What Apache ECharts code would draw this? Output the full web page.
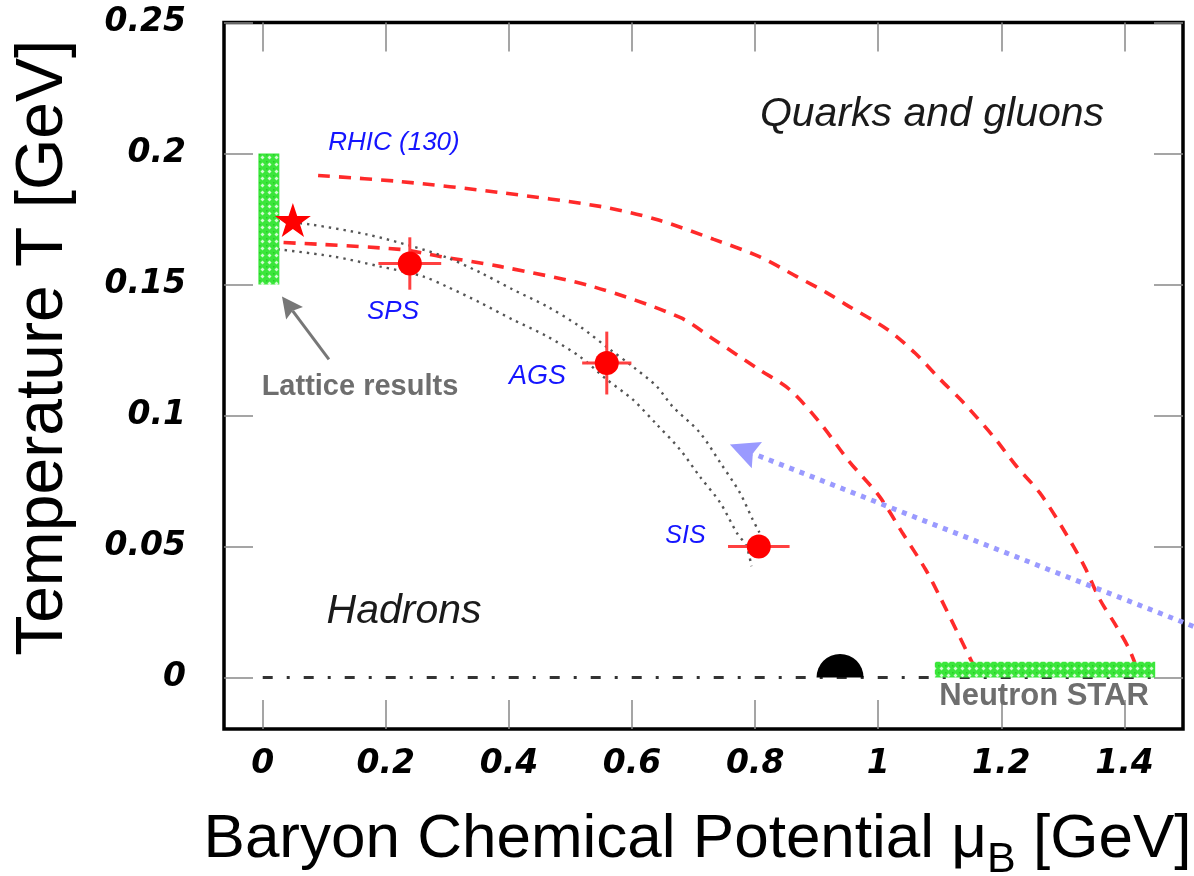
<!DOCTYPE html>
<html>
<head>
<meta charset="utf-8">
<script src="https://cdn.jsdelivr.net/npm/echarts@6/dist/echarts.min.js"></script>
<style>
  html, body { margin: 0; padding: 0; background: #fff; }
  #chart { width: 1194px; height: 876px; }
</style>
</head>
<body>
<div id="chart"></div>
<script>
// ---- axis ticks ----
const muTicks = [0, 0.2, 0.4, 0.6, 0.8, 1.0, 1.2, 1.4];
const tTicks = [0, 0.05, 0.1, 0.15, 0.2, 0.25];

// ---- phase boundary band: two red dashed curves [muB, T] ----
const boundaryUpper = [
  [0.090, 0.1916], [0.223, 0.1893], [0.385, 0.1851], [0.548, 0.1798], [0.640, 0.1748],
  [0.733, 0.1672], [0.806, 0.1607], [0.867, 0.1531], [0.916, 0.1469], [0.947, 0.1424],
  [1.015, 0.1328], [1.059, 0.1240], [1.101, 0.1137], [1.138, 0.1050], [1.187, 0.0920],
  [1.225, 0.0805], [1.262, 0.0706], [1.298, 0.0576], [1.335, 0.0424], [1.360, 0.0298],
  [1.387, 0.0195], [1.408, 0.0107], [1.424, 0.0011]
];
const boundaryLower = [
  [0.000, 0.1664], [0.223, 0.1634], [0.288, 0.1607], [0.385, 0.1569], [0.536, 0.1492],
  [0.678, 0.1374], [0.733, 0.1290], [0.806, 0.1176], [0.856, 0.1099], [0.905, 0.0973],
  [0.953, 0.0824], [1.002, 0.0691], [1.039, 0.0553], [1.077, 0.0412], [1.100, 0.0309],
  [1.132, 0.0156], [1.158, 0.0031]
];

// ---- chemical freeze-out curves: grey dotted ----
const freezeOuter = [
  [0.000, 0.1748], [0.077, 0.1729], [0.169, 0.1691], [0.244, 0.1645], [0.299, 0.1603],
  [0.353, 0.1546], [0.406, 0.1481], [0.462, 0.1416], [0.515, 0.1340], [0.564, 0.1252],
  [0.601, 0.1187], [0.640, 0.1111], [0.666, 0.1034], [0.710, 0.0935], [0.743, 0.0821],
  [0.775, 0.0706], [0.796, 0.0603], [0.807, 0.0553]
];
const freezeInner = [
  [0.000, 0.1641], [0.114, 0.1607], [0.190, 0.1569], [0.260, 0.1531], [0.299, 0.1492],
  [0.353, 0.1431], [0.406, 0.1366], [0.462, 0.1302], [0.515, 0.1225], [0.559, 0.1137],
  [0.601, 0.1061], [0.640, 0.0966], [0.678, 0.0870], [0.710, 0.0767], [0.743, 0.0668],
  [0.770, 0.0553], [0.786, 0.0500], [0.794, 0.0424]
];

// ---- freeze-out points from experiments ----
const expNames = ['SPS', 'AGS', 'SIS'];
const expMu = [0.239, 0.559, 0.806];
const expT = [0.158, 0.120, 0.050];
const expMuErr = [0.051, 0.040, 0.050];
const expTErr = [0.010, 0.012, 0.000];

// ---- other marks ----
const latticePoint = [[0.049, 0.1746]];
const latticeBand = [[-0.007, 0.027, 0.150, 0.200]];      // mu0, mu1, T0, T1
const neutronStarBand = [[1.092, 1.450, 0.000, 0.006]];   // mu0, mu1, T0, T1
const nucleonMass = [[0.938, 0]];
const zeroLine = [[0, 0], [1.45, 0]];
const latticeArrow = [[0.1076, 0.1214, 0.0313, 0.1454]];  // from (mu, T) to (mu, T)
const starArrow = [[1.512, 0.0195, 0.759, 0.0889]];

// green "lattice" texture for the bands
function makeBandPattern() {
  const c = document.createElement('canvas');
  c.width = 7; c.height = 7;
  const g = c.getContext('2d');
  g.fillStyle = '#3be63b';
  g.fillRect(0, 0, 7, 7);
  g.fillStyle = '#d2fbd2';
  g.beginPath();
  g.moveTo(3.5, 1.5); g.lineTo(5.5, 3.5); g.lineTo(3.5, 5.5); g.lineTo(1.5, 3.5);
  g.closePath(); g.fill();
  g.fillStyle = '#27cc27';
  g.fillRect(0, 0, 1.5, 1.5);
  return c;
}
const bandFill = { image: makeBandPattern(), repeat: 'repeat' };

function bandItem(params, api) {
  const p0 = api.coord([api.value(0), api.value(3)]);
  const p1 = api.coord([api.value(1), api.value(2)]);
  return {
    type: 'rect',
    shape: { x: p0[0], y: p0[1], width: p1[0] - p0[0], height: p1[1] - p0[1] },
    style: { fill: bandFill }
  };
}

function arrowItem(color, width, dash, headLen, headW) {
  return function (params, api) {
    const a = api.coord([api.value(0), api.value(1)]);
    const b = api.coord([api.value(2), api.value(3)]);
    const dx = b[0] - a[0], dy = b[1] - a[1];
    const L = Math.hypot(dx, dy);
    const ux = dx / L, uy = dy / L, nx = -uy, ny = ux;
    const base = [b[0] - ux * headLen, b[1] - uy * headLen];
    const notch = [b[0] - ux * headLen * 0.85, b[1] - uy * headLen * 0.85];
    return {
      type: 'group',
      children: [
        { type: 'line', shape: { x1: a[0], y1: a[1], x2: notch[0], y2: notch[1] },
          style: { stroke: color, lineWidth: width, lineDash: dash, lineCap: 'butt' } },
        { type: 'polygon',
          shape: { points: [b, [base[0] + nx * headW / 2, base[1] + ny * headW / 2], notch,
                            [base[0] - nx * headW / 2, base[1] - ny * headW / 2]] },
          style: { fill: color } }
      ]
    };
  };
}

const expData = expNames.map((n, i) => [expMu[i], expT[i], expMuErr[i], expTErr[i], n]);

const tickLabelStyle = {
  fontFamily: 'DejaVu Sans', fontWeight: 'bold', fontStyle: 'italic',
  fontSize: 33, color: '#000'
};
const tickStyle = { inside: true, length: 29, lineStyle: { color: '#888', width: 1.5 } };
const noLine = { show: false, onZero: false };

const chart = echarts.init(document.getElementById('chart'), null, { renderer: 'canvas' });

chart.setOption({
  animation: false,
  backgroundColor: '#fff',
  grid: {
    left: 224, top: 22.5, right: 11, bottom: 147,
    show: true, borderColor: '#000', borderWidth: 3.5, backgroundColor: 'transparent',
    containLabel: false, outerBoundsMode: 'none'
  },
  xAxis: [
    {
      type: 'value', min: -0.0629, max: 1.4952, position: 'bottom',
      axisLine: noLine,
      axisTick: Object.assign({ customValues: muTicks }, tickStyle),
      axisLabel: Object.assign({ customValues: muTicks, margin: 19 }, tickLabelStyle),
      splitLine: { show: false },
      name: 'Baryon Chemical Potential μ{sub|B} [GeV]',
      nameLocation: 'middle', nameGap: 68,
      nameTextStyle: {
        fontFamily: 'Liberation Sans', fontSize: 62, color: '#000', padding: [0, 12, 0, 0],
        rich: { sub: { fontFamily: 'Liberation Sans', fontSize: 43, color: '#000', padding: [42, 0, 0, 0] } }
      }
    },
    {
      type: 'value', min: -0.0629, max: 1.4952, position: 'top',
      axisLine: noLine,
      axisTick: Object.assign({ customValues: muTicks }, tickStyle),
      axisLabel: { show: false },
      splitLine: { show: false }
    }
  ],
  yAxis: [
    {
      type: 'value', min: -0.0197, max: 0.25, position: 'left',
      axisLine: noLine,
      axisTick: Object.assign({ customValues: tTicks }, tickStyle),
      axisLabel: Object.assign({ customValues: tTicks, margin: 38 }, tickLabelStyle),
      splitLine: { show: false },
      name: 'Temperature T [GeV]',
      nameLocation: 'middle', nameGap: 147,
      nameTextStyle: { fontFamily: 'Liberation Sans', fontSize: 66, color: '#000', padding: [0, 0, 0, 56] }
    },
    {
      type: 'value', min: -0.0197, max: 0.25, position: 'right',
      axisLine: noLine,
      axisTick: Object.assign({ customValues: tTicks }, tickStyle),
      axisLabel: { show: false },
      splitLine: { show: false }
    }
  ],
  series: [
    {
      name: 'T = 0', type: 'line', data: zeroLine, symbol: 'none', silent: true, z: 2,
      lineStyle: { color: '#333', width: 3, type: [10, 14, 3, 14] }
    },
    {
      name: 'Phase boundary (upper)', type: 'line', data: boundaryUpper, symbol: 'none',
      smooth: 0.3, silent: true, z: 3,
      lineStyle: { color: '#ff2a2a', width: 3.6, type: [12, 9] }
    },
    {
      name: 'Phase boundary (lower)', type: 'line', data: boundaryLower, symbol: 'none',
      smooth: 0.3, silent: true, z: 3,
      lineStyle: { color: '#ff2a2a', width: 3.6, type: [12, 9] }
    },
    {
      name: 'Freeze-out (outer)', type: 'line', data: freezeOuter, symbol: 'none',
      smooth: 0.3, silent: true, z: 3,
      lineStyle: { color: '#555', width: 2.4, type: [2.4, 5] }
    },
    {
      name: 'Freeze-out (inner)', type: 'line', data: freezeInner, symbol: 'none',
      smooth: 0.3, silent: true, z: 3,
      lineStyle: { color: '#555', width: 2.4, type: [2.4, 5] }
    },
    {
      name: 'Lattice band', type: 'custom', data: latticeBand, renderItem: bandItem, silent: true, z: 4
    },
    {
      name: 'Neutron star band', type: 'custom', data: neutronStarBand, renderItem: bandItem, silent: true, z: 4
    },
    {
      name: 'Error bars', type: 'custom', data: expData, silent: true, z: 5,
      renderItem: function (params, api) {
        const mu = api.value(0), t = api.value(1), dmu = api.value(2), dt = api.value(3);
        const l = api.coord([mu - dmu, t]), r = api.coord([mu + dmu, t]);
        const top = api.coord([mu, t + dt]), bot = api.coord([mu, t - dt]);
        const st = { stroke: '#ff4040', lineWidth: 3 };
        const kids = [{ type: 'line', shape: { x1: l[0], y1: l[1], x2: r[0], y2: r[1] }, style: st }];
        if (dt > 0) kids.push({ type: 'line', shape: { x1: top[0], y1: top[1], x2: bot[0], y2: bot[1] }, style: st });
        return { type: 'group', children: kids };
      }
    },
    {
      name: 'Freeze-out points', type: 'scatter', data: expData, symbol: 'circle', symbolSize: 24,
      silent: true, z: 6, itemStyle: { color: '#ff0000', opacity: 1 }
    },
    {
      name: 'Lattice critical point', type: 'scatter', data: latticePoint, silent: true, z: 6,
      symbol: 'path://M50,0 L61.8,35.3 L99,35.3 L69,57.1 L80.4,92.7 L50,70.9 L19.6,92.7 L31,57.1 L1,35.3 L38.2,35.3 Z',
      symbolSize: [36, 34], itemStyle: { color: '#ff0000', opacity: 1 }
    },
    {
      name: 'Nucleon mass', type: 'scatter', data: nucleonMass, silent: true, z: 6,
      symbol: 'path://M0,10 A10,10 0 0 1 20,10 Z', symbolSize: [47, 23.5], symbolOffset: [0, '-50%'],
      itemStyle: { color: '#000', opacity: 1 }
    },
    {
      name: 'Lattice arrow', type: 'custom', data: latticeArrow, silent: true, z: 6, clip: false,
      renderItem: arrowItem('#777', 3, null, 21, 21)
    },
    {
      name: 'Neutron star arrow', type: 'custom', data: starArrow, silent: true, z: 6, clip: false,
      renderItem: arrowItem('#9a9aff', 5, [5, 6], 29, 28)
    },
    {
      name: 'Annotations', type: 'scatter', symbolSize: 1, silent: true, z: 7,
      itemStyle: { color: 'rgba(255,255,255,0)', opacity: 1 },
      label: { show: true, position: 'inside', formatter: (p) => p.data.text },
      data: [
        { value: [1.0874, 0.2147], text: 'Quarks and gluons',
          label: { fontFamily: 'Liberation Sans', fontStyle: 'italic', fontSize: 41, color: '#1a1a1a' } },
        { value: [0.2296, 0.0250], text: 'Hadrons',
          label: { fontFamily: 'Liberation Sans', fontStyle: 'italic', fontSize: 41, color: '#1a1a1a' } },
        { value: [0.2133, 0.2042], text: 'RHIC (130)',
          label: { fontFamily: 'Liberation Sans', fontStyle: 'italic', fontSize: 26, color: '#1515ff' } },
        { value: [0.2117, 0.1395], text: 'SPS',
          label: { fontFamily: 'Liberation Sans', fontStyle: 'italic', fontSize: 26, color: '#1515ff' } },
        { value: [0.4465, 0.1147], text: 'AGS',
          label: { fontFamily: 'Liberation Sans', fontStyle: 'italic', fontSize: 27, color: '#1515ff' } },
        { value: [0.6869, 0.0540], text: 'SIS',
          label: { fontFamily: 'Liberation Sans', fontStyle: 'italic', fontSize: 25, color: '#1515ff' } },
        { value: [0.1580, 0.1109], text: 'Lattice results',
          label: { fontFamily: 'Liberation Sans', fontWeight: 'bold', fontSize: 29, color: '#6e6e6e' } },
        { value: [1.2694, -0.0074], text: 'Neutron STAR',
          label: { fontFamily: 'Liberation Sans', fontWeight: 'bold', fontSize: 31, color: '#6e6e6e' } }
      ]
    }
  ]
});
</script>
</body>
</html>
